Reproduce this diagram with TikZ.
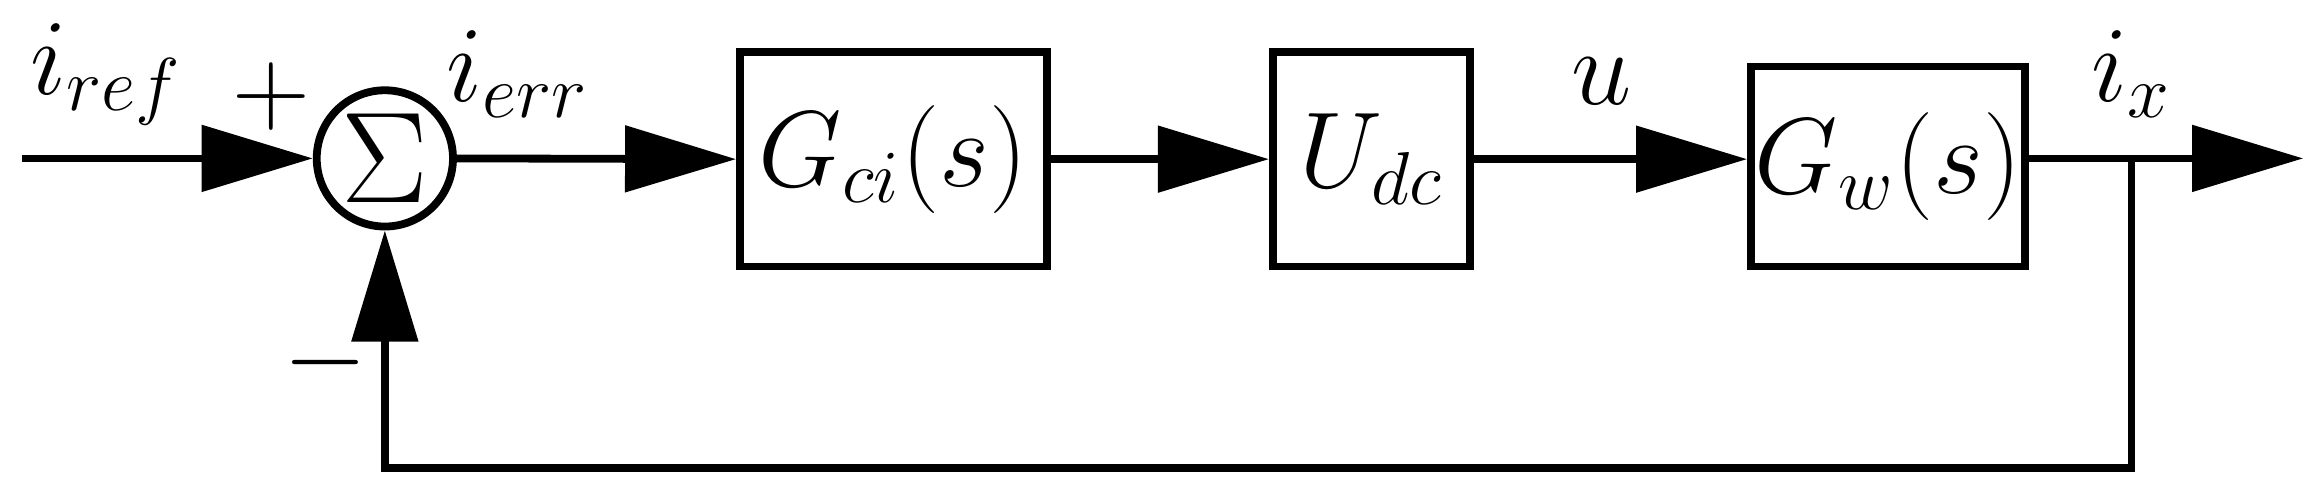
\documentclass[tikz,border=0pt]{standalone}
\usetikzlibrary{arrows.meta}
\begin{document}
\begin{tikzpicture}[x=0.01cm,y=-0.01cm,
  line width=1.5pt,
  big/.style={-{Triangle[length=0.75cm,width=0.44cm]}},
  blk/.style={draw,line width=1.5pt,inner sep=0pt,font=\fontsize{22}{26}\selectfont},
  lbl/.style={font=\fontsize{22}{26}\selectfont}]
\useasboundingbox (0,0) rectangle (1568,329);
\node[draw,circle,minimum size=0.92cm,inner sep=0pt,line width=1.5pt,font=\fontsize{28}{32}\selectfont] (sum) at (260,107) {$\Sigma$};
\node[blk,minimum width=2.07cm,minimum height=1.45cm] (gci) at (603.5,107.5) {$G_{ci}(s)$};
\node[blk,minimum width=1.33cm,minimum height=1.45cm] (udc) at (926.5,107.5) {$U_{dc}$};
\node[blk,minimum width=1.85cm,minimum height=1.35cm] (gw) at (1275.5,112.5) {$G_{w}(s)$};
\coordinate (in) at (15,107);
\coordinate (out) at (1556,107);
\coordinate (tap) at (1440,107);
\coordinate (bl) at (260,316);
\coordinate (br) at (1440,316);
\draw[big] (in) -- (sum.west);
\draw[big] (sum.east) -- (gci.west);
\draw[big] (gci.east) -- (udc.west);
\draw[big] (udc.east) -- (gw.west |- udc.east);
\draw[big] (gw.east |- tap) -- (out);
\draw[big] (tap) -- (br) -- (bl) -- (sum.south);
\node[lbl] (lref) at (72,50) {$i_{ref}$};
\node[lbl] (lplus) at (183,65) {$+$};
\node[lbl] (lerr) at (350,50) {$i_{err}$};
\node[lbl] (lu) at (1082,55) {$u$};
\node[lbl] (lx) at (1440,50) {$i_{x}$};
\node[lbl] (lminus) at (220,245) {$-$};
\end{tikzpicture}
\end{document}
